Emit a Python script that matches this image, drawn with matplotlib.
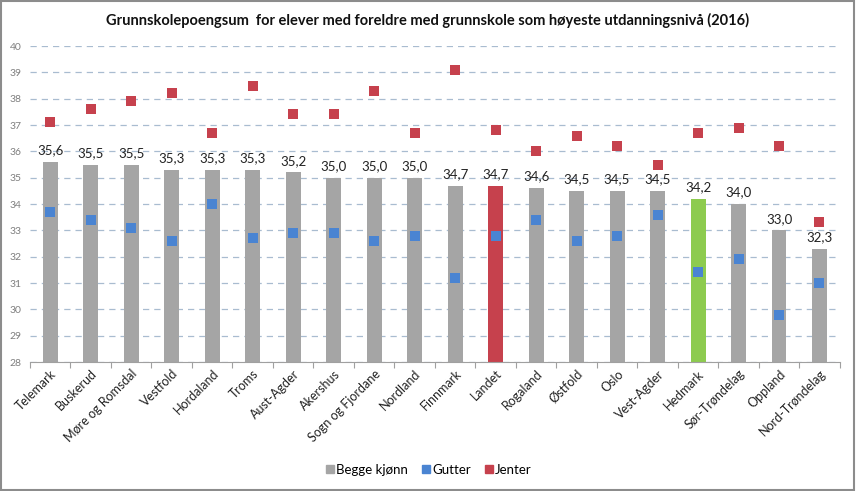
import matplotlib
matplotlib.use("Agg")
import matplotlib.pyplot as plt
from matplotlib.lines import Line2D
from matplotlib.patches import Rectangle
import numpy as np

plt.rcParams['font.family'] = ['Lato', 'DejaVu Sans']

categories = ["Telemark", "Buskerud", "Møre og Romsdal", "Vestfold", "Hordaland", "Troms",
              "Aust-Agder", "Akershus", "Sogn og Fjordane", "Nordland", "Finnmark", "Landet",
              "Rogaland", "Østfold", "Oslo", "Vest-Agder", "Hedmark", "Sør-Trøndelag",
              "Oppland", "Nord-Trøndelag"]
begge = [35.6, 35.5, 35.5, 35.3, 35.3, 35.3, 35.2, 35.0, 35.0, 35.0, 34.7, 34.7,
         34.6, 34.5, 34.5, 34.5, 34.2, 34.0, 33.0, 32.3]
gutter = [33.7, 33.4, 33.1, 32.6, 34.0, 32.7, 32.9, 32.9, 32.6, 32.8, 31.2, 32.8,
          33.4, 32.6, 32.8, 33.6, 31.4, 31.9, 29.8, 31.0]
jenter = [37.1, 37.6, 37.9, 38.2, 36.7, 38.5, 37.4, 37.4, 38.3, 36.7, 39.1, 36.8,
          36.0, 36.6, 36.2, 35.5, 36.7, 36.9, 36.2, 33.3]
title = "Grunnskolepoengsum  for elever med foreldre med grunnskole som høyeste utdanningsnivå (2016)"

GRAY = "#A5A5A5"
RED = "#C6414D"
BLUE = "#4A84D2"
GREEN = "#8DCB4F"

bar_colors = [GRAY] * len(categories)
bar_colors[categories.index("Landet")] = RED
bar_colors[categories.index("Hedmark")] = GREEN

fig = plt.figure(figsize=(8.56, 4.91), dpi=100)
ax = fig.add_axes([0.035, 0.2627, 0.946, 0.6436])

x = np.arange(len(categories))
ymin = 28
ax.bar(x, np.array(begge) - ymin, bottom=ymin, width=0.37, color=bar_colors, zorder=2)
ax.scatter(x, gutter, marker='s', s=52, color=BLUE, zorder=3, linewidths=0)
ax.scatter(x, jenter, marker='s', s=52, color=RED, zorder=3, linewidths=0)

for xi, v in zip(x, begge):
    ax.annotate(f"{v:.1f}".replace('.', ','), (xi, v), xytext=(0, 4),
                textcoords='offset points', ha='center', va='bottom',
                fontsize=9.5, color='#222222')

ax.set_ylim(28, 40)
ax.set_xlim(-0.5, len(categories) - 0.5)
ax.set_yticks(range(28, 41))
ax.tick_params(axis='y', length=0, labelsize=7.5, labelcolor='#7F7F7F', pad=6)
ax.yaxis.grid(True, linestyle=(0, (5, 4)), color='#A9BCD0', linewidth=0.9, zorder=0)
ax.set_axisbelow(True)

ax.set_xticks(x)
ax.set_xticklabels(categories, rotation=45, ha='right', rotation_mode='anchor',
                   fontsize=9, color='#222222')
ax.tick_params(axis='x', length=0, pad=4)
ax.set_xticks(np.arange(len(categories) + 1) - 0.5, minor=True)
ax.tick_params(axis='x', which='minor', length=4, color='#A0A0A0', width=0.8)

for s in ['top', 'right', 'left']:
    ax.spines[s].set_visible(False)
ax.spines['bottom'].set_color('#A0A0A0')
ax.spines['bottom'].set_linewidth(0.8)

fig.text(0.5, 0.958, title, ha='center', va='center', fontsize=10.5,
         fontweight='bold', color='#111111')

handles = [Line2D([], [], marker='s', linestyle='none', color=c, markersize=5.5)
           for c in (GRAY, BLUE, RED)]
fig.legend(handles, ["Begge kjønn", "Gutter", "Jenter"], loc='center',
           bbox_to_anchor=(0.5, 0.043), ncol=3, frameon=False, fontsize=9.5,
           handletextpad=0.05, columnspacing=1.0, handlelength=0.8)

fig.patches.append(Rectangle((0.001, 0.002), 0.997, 0.995, transform=fig.transFigure,
                             fill=False, edgecolor='#8C8C8C', linewidth=1.5))

fig.savefig("out.png", dpi=100)
